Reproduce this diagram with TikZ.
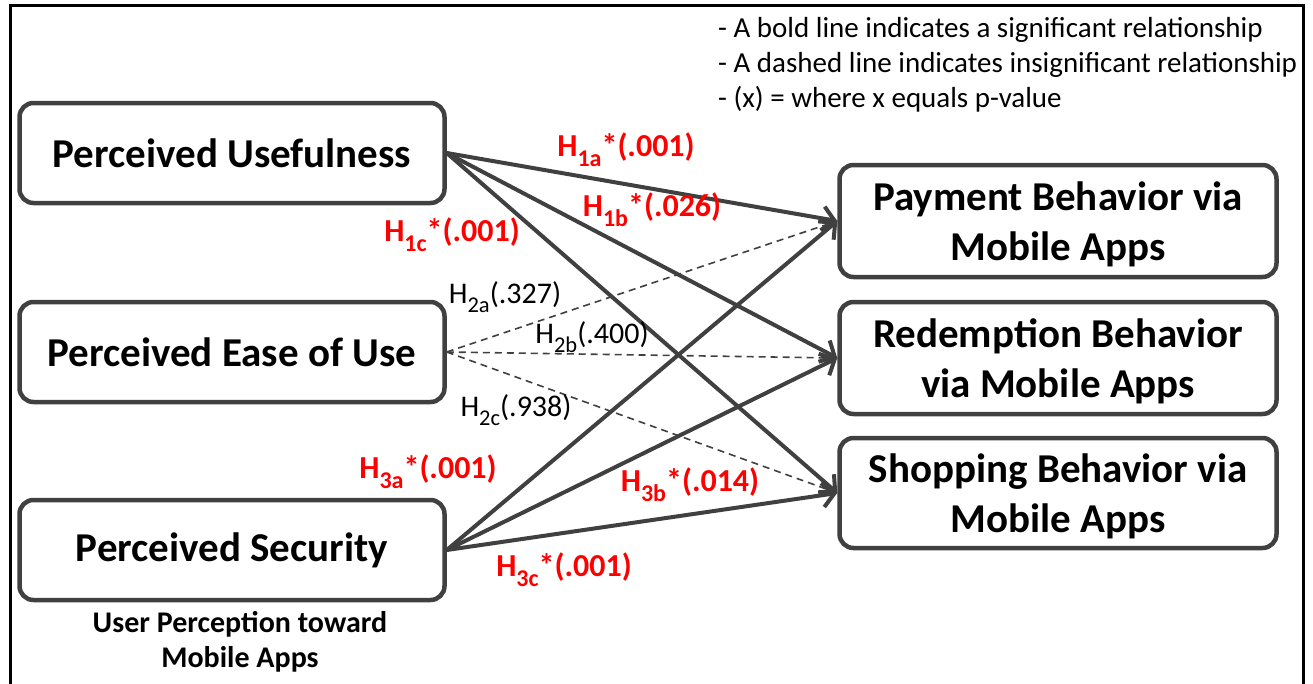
\documentclass[tikz,border=0pt]{standalone}
\usepackage{fontspec}
\setmainfont{Carlito}
\usepackage{xcolor}
\usetikzlibrary{arrows.meta,positioning}
\definecolor{linegray}{RGB}{64,64,64}
\definecolor{hred}{RGB}{255,0,0}
\newcommand{\hsub}[1]{\raisebox{-0.3em}{\scalebox{0.75}{#1}}}

\begin{document}
\begin{tikzpicture}[x=1pt,y=-1pt,
  box/.style={draw=linegray,line width=4.5pt,rounded corners=14pt,align=center,inner sep=0pt,
    font=\fontsize{41}{50}\selectfont\bfseries},
  outbox/.style={box,minimum width=437pt,text depth=-4pt},
  sig/.style={draw=linegray,line width=4pt,line cap=round,-{Straight Barb[length=12pt,width=24pt,line width=4pt]}},
  insig/.style={draw=linegray,line width=1.6pt,dash pattern=on 7pt off 5pt},
  hsig/.style={text=hred,font=\fontsize{32}{36}\selectfont\bfseries,inner sep=0pt},
  hins/.style={text=black,font=\fontsize{30}{36}\selectfont,inner sep=0pt}]
\useasboundingbox (0,0) rectangle (1313,683);
% frame
\draw[line width=3pt] (10,700) -- (10,5) -- (1303,5) -- (1303,700);
% perception boxes
\node[box,minimum width=425pt,minimum height=100pt] (pu) at (232,153) {Perceived Usefulness};
\node[box,minimum width=425pt,minimum height=100pt] (pe) at (232,352) {Perceived Ease of Use};
\node[box,minimum width=425pt,minimum height=100pt] (ps) at (232,550) {Perceived Security};
\node[font=\fontsize{30}{35}\selectfont\bfseries,align=center] (cap) at (240,642) {User Perception toward\\Mobile Apps};
% behavior boxes
\node[outbox,minimum height=112pt] (pay) at (1058,221) {Payment Behavior via\\Mobile Apps};
\node[outbox,minimum height=112pt] (red) at (1058,358) {Redemption Behavior\\via Mobile Apps};
\node[outbox,minimum height=110pt] (shop) at (1058,493) {Shopping Behavior via\\Mobile Apps};
% legend
\node[font=\fontsize{29}{35}\selectfont,align=left,anchor=west,inner sep=0pt] (legend) at (718,65)
  {- A bold line indicates a significant relationship\\- A dashed line indicates insignificant relationship\\- (x) = where x equals p-value};
% paths
\draw[insig] (pe.east) -- (pay.west);
\draw[insig] (pe.east) -- (red.west);
\draw[insig] (pe.east) -- (shop.west);
\draw[sig] (pu.east) -- (pay.west);
\draw[sig] (pu.east) -- (red.west);
\draw[sig] (pu.east) -- (shop.west);
\draw[sig] (ps.east) -- (pay.west);
\draw[sig] (ps.east) -- (red.west);
\draw[sig] (ps.east) -- (shop.west);
% labels
\node[hsig] (h1a) at (626,150) {H\hsub{1a}*(.001)};
\node[hsig] (h1b) at (652,210) {H\hsub{1b}*(.026)};
\node[hsig] (h1c) at (452,235) {H\hsub{1c}*(.001)};
\node[hins] (h2a) at (505,297) {H\hsub{2a}(.327)};
\node[hins] (h2b) at (592,337) {H\hsub{2b}(.400)};
\node[hins] (h2c) at (516,410) {H\hsub{2c}(.938)};
\node[hsig] (h3a) at (428,472) {H\hsub{3a}*(.001)};
\node[hsig] (h3b) at (690,485) {H\hsub{3b}*(.014)};
\node[hsig] (h3c) at (564,570) {H\hsub{3c}*(.001)};
\end{tikzpicture}
\end{document}
